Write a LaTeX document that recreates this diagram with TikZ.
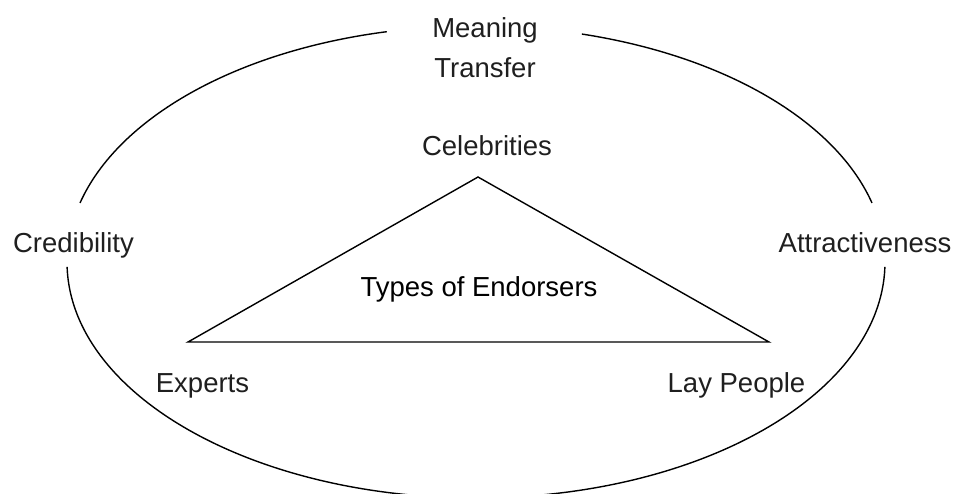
\documentclass[tikz,border=0pt]{standalone}
\usepackage{fontspec}
\setmainfont{Liberation Sans}
\begin{document}
\begin{tikzpicture}[x=1pt,y=1pt,
  lbl/.style={inner sep=0pt, anchor=base, text=black!88, font=\fontsize{27.5}{40}\selectfont, align=center},
  ring/.style={line width=1.4pt},
  tri/.style={line width=1.4pt, line join=miter}]
\useasboundingbox (0,0) rectangle (957,-493);
\clip (0,0) rectangle (957,-493);
% ellipse centre
\coordinate (C) at (476,-262);
\draw[ring] ([shift={(14.5:409pt and 236pt)}]C) arc[start angle=14.5, end angle=75, x radius=409pt, y radius=236pt];
\draw[ring] ([shift={(102.6:409pt and 236pt)}]C) arc[start angle=102.6, end angle=165.5, x radius=409pt, y radius=236pt];
\draw[ring] ([shift={(181.2:409pt and 236pt)}]C) arc[start angle=181.2, end angle=358.8, x radius=409pt, y radius=236pt];
% triangle
\coordinate (apex) at (478,-177);
\coordinate (bl) at (188,-342);
\coordinate (br) at (769,-342);
\draw[tri] (apex) -- (br) -- (bl) -- cycle;
% labels
\node[lbl] (meaning) at (485,-77) {Meaning\\Transfer};
\node[lbl] (celeb) at (487,-155) {Celebrities};
\node[lbl, text=black] (types) at (479,-296) {Types of Endorsers};
\node[lbl] (cred) at (73.5,-252) {Credibility};
\node[lbl] (attr) at (865,-252) {Attractiveness};
\node[lbl] (exp) at (202.5,-392) {Experts};
\node[lbl] (lay) at (736.5,-392) {Lay People};
\end{tikzpicture}
\end{document}
